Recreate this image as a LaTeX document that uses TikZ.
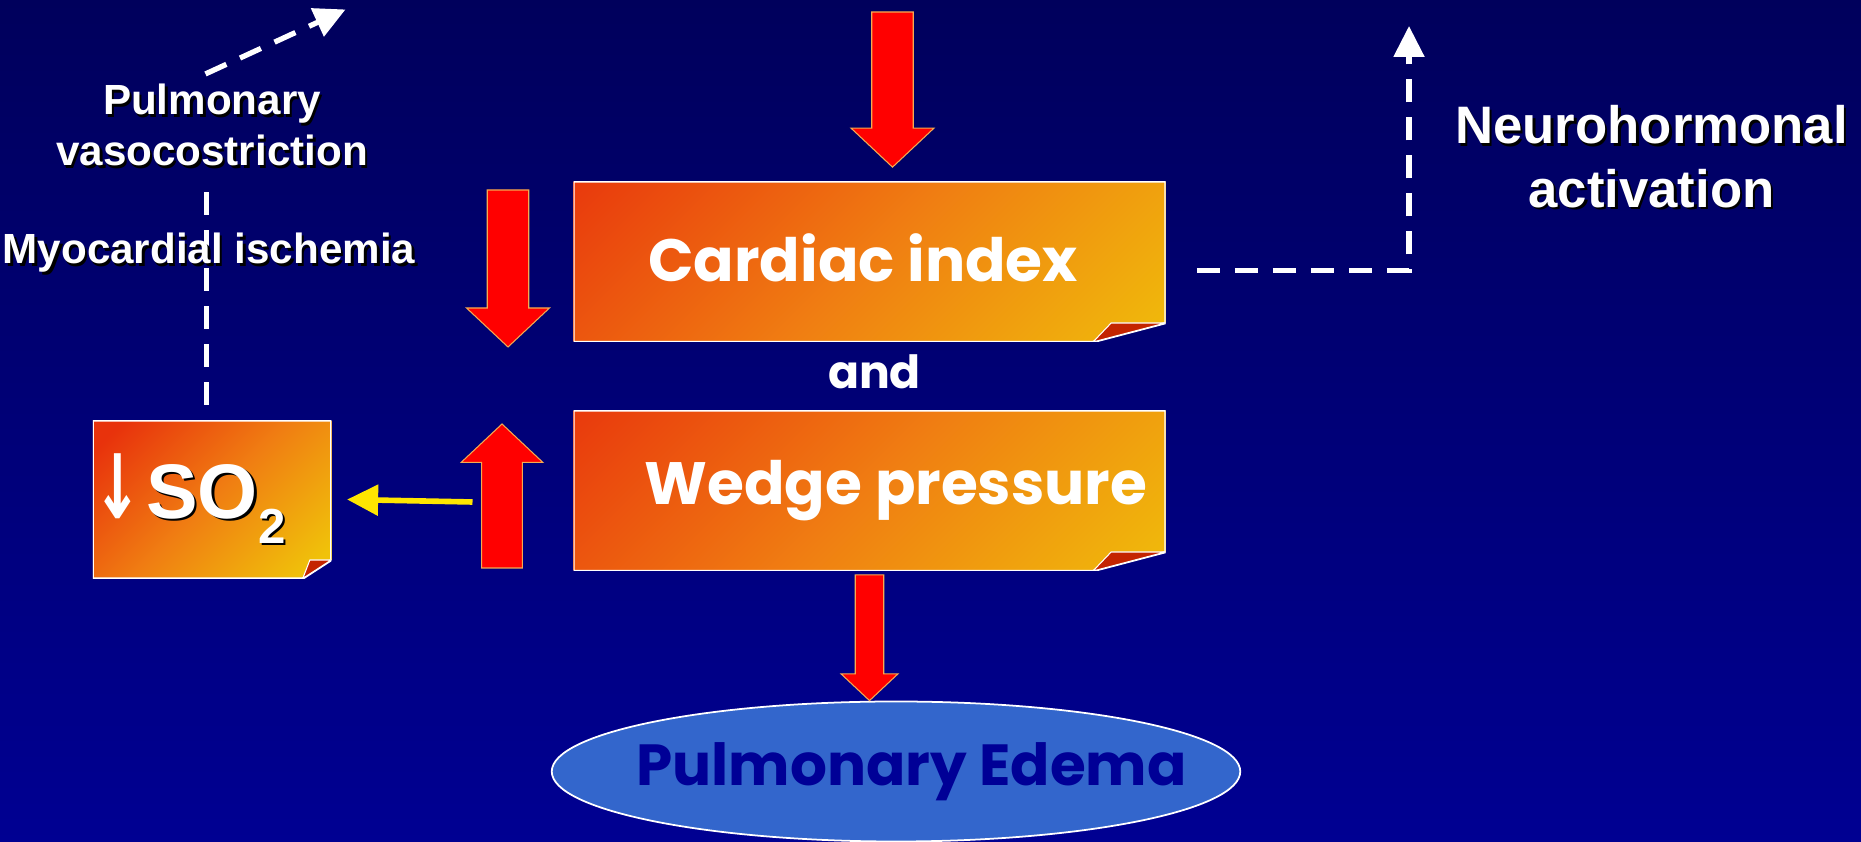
\documentclass[tikz,border=0pt]{standalone}
\usepackage{fontspec}
\usepackage{graphicx}
\setsansfont{Liberation Sans}
\newfontfamily\handfont{Poppins}
\newfontfamily\arrowfont{DejaVu Sans}
\usetikzlibrary{arrows.meta,calc,shapes.geometric}

\pgfdeclarelayer{back}
\pgfsetlayers{back,main}

\newcommand{\shadowed}[1]{\makebox[0pt][l]{\hspace{1.4pt}\raisebox{-1.4pt}{\color{black}#1}}#1}

\begin{document}
\begin{tikzpicture}[>={Triangle[width=0.6cm,length=0.62cm]},font=\sffamily\bfseries,
  fold x/.store in=\foldx,fold y/.store in=\foldy,fold x=1.45cm,fold y=0.38cm,
  paper/.style={minimum width=11.84cm,minimum height=3.21cm,inner sep=0pt,text=white,
    font=\handfont\bfseries\fontsize{34}{40}\selectfont,
    path picture={
      \coordinate (sw) at (path picture bounding box.south west);
      \coordinate (ne) at (path picture bounding box.north east);
      \coordinate (se) at (sw-|ne);
      \coordinate (mid) at ($(sw)!0.5!(ne)$);
      \begin{scope}
        \clip (sw) -- (sw|-ne) -- (ne) -- ($(se)+(0,\foldy)$) -- ($(se)+(-\foldx,0)$) -- cycle;
        \shade[top color=paperhot,bottom color=papergold,middle color=paperglow,shading angle=45]
          let \p1=($(ne)-(sw)$) in ($(mid)+(-0.5*\x1,-0.5*\x1)$) rectangle ($(mid)+(0.5*\x1,0.5*\x1)$);
      \end{scope}
      \draw[white,line width=1.4pt] (sw) -- (sw|-ne) -- (ne) -- ($(se)+(0,\foldy)$) -- ($(se)+(-\foldx,0)$) -- cycle;
      \filldraw[fill=foldred,draw=white,line width=0.6pt] ($(se)+(-\foldx,0)$) -- ($(se)+(-0.75*\foldx,\foldy)$) -- ($(se)+(0,\foldy)$) -- cycle;
    }},
  tag/.style={text=white,align=center,inner sep=0pt,font=\sffamily\bfseries\fontsize{24}{29}\selectfont},
  dashline/.style={white,line width=3pt,dash pattern=on 0.46cm off 0.3cm},
  pointerline/.style={draw=pointer,line width=3.2pt,->},
  blockarrow/.style={fill=arrowred,draw=arrowrim,line width=0.6pt,line join=miter,
    to path={
      -- ($(\tikztostart)!#1/4!90:(\tikztotarget)$)
      -- ($(\tikztotarget)!0.47*#1!(\tikztostart)!#1/4!90:(\tikztotarget)$)
      -- ($(\tikztotarget)!0.47*#1!(\tikztostart)!#1/2!90:(\tikztotarget)$)
      -- (\tikztotarget)
      -- ($(\tikztotarget)!0.47*#1!(\tikztostart)!#1/2!-90:(\tikztotarget)$)
      -- ($(\tikztotarget)!0.47*#1!(\tikztostart)!#1/4!-90:(\tikztotarget)$)
      -- ($(\tikztostart)!#1/4!-90:(\tikztotarget)$)
      -- cycle}}]
\definecolor{bgtop}{RGB}{0,0,92}
\definecolor{bgbottom}{RGB}{0,0,146}
\definecolor{paperhot}{RGB}{232,50,12}
\definecolor{paperglow}{RGB}{240,126,18}
\definecolor{papergold}{RGB}{240,194,10}
\definecolor{foldred}{RGB}{196,36,0}
\definecolor{arrowred}{RGB}{255,0,0}
\definecolor{arrowrim}{RGB}{245,170,80}
\definecolor{pointer}{RGB}{255,230,0}
\definecolor{edemafill}{RGB}{51,102,204}
\definecolor{edemaink}{RGB}{0,0,150}

\useasboundingbox (0,0) rectangle (37.22,16.84);
\begin{pgfonlayer}{back}
\shade[top color=bgtop,bottom color=bgbottom] (0,0) rectangle (37.22,16.84);
\end{pgfonlayer}

% The two haemodynamic notes and the oxygen note.
\node[paper] (ci) at (17.39,11.605) {\raisebox{0.17cm}{Cardiac index}\hspace*{0.26cm}};
\node[paper] (wp) at (17.39,7.025) {\hspace*{1.06cm}Wedge pressure};
\node[text=white,font=\handfont\bfseries\fontsize{26}{30}\selectfont] (and) at (17.49,9.41) {and};
\node[paper,minimum width=4.77cm,minimum height=3.16cm,text width=4.77cm,align=left,
  fold x=0.57cm,fold y=0.37cm,font=\sffamily\bfseries\fontsize{44}{44}\selectfont] (so) at (4.24,6.85)
  {\hspace*{0.02cm}{\arrowfont\bfseries\scalebox{0.75}[1.15]{↓}}\hspace{0.08cm}\shadowed{SO\raisebox{-0.32em}{\fontsize{28}{28}\selectfont 2}}};
\node[ellipse,fill=edemafill,draw=white,line width=1pt,minimum width=13.77cm,minimum height=2.8cm,
  inner xsep=-1cm,inner ysep=0pt,text=edemaink,font=\handfont\bfseries\fontsize{33}{38}\selectfont]
  (ed) at (17.92,1.41) {\hspace*{0.62cm}Pulmonary Edema};

% Side effects.
\node[tag] (pv) at (4.24,14.31) {\shadowed{Pulmonary}\\\shadowed{vasocostriction}};
\node[tag] (mi) at (4.18,11.76) {\shadowed{Myocardial ischemia}};
\node[tag,font=\sffamily\bfseries\fontsize{30}{36}\selectfont] (nh) at (33.03,13.68)
  {\shadowed{Neurohormonal}\\\shadowed{activation}};

\coordinate (citop) at (17.85,16.60);
\coordinate (citip) at ($(ci.north)+(0.46,0.28)$);
\coordinate (downtail) at (10.16,13.04);
\coordinate (downtip) at (10.16,9.90);
\coordinate (uptail) at (10.04,5.48);
\coordinate (uptip) at (10.04,8.36);
\coordinate (wpfoot) at ($(wp.south)+(0,-0.07)$);
\coordinate (edtop) at (wp.south |- ed.north);
\coordinate (hypox) at (9.45,6.80);
\coordinate (pvtip) at (6.91,16.65);
\coordinate (nhtip) at (28.18,16.32);
\coordinate (pvfoot) at (so.north |- pv.south);

% Red block arrows.
\path[blockarrow=1.66cm] (citop) to (citip);
\path[blockarrow=1.66cm] (downtail) to (downtip);
\path[blockarrow=1.63cm] (uptail) to (uptip);
\path[blockarrow=1.14cm] (wpfoot) to (edtop);

\draw[pointerline] (hypox) -- ([xshift=0.31cm]so.east);

% Dashed feedback lines run under the labels.
\begin{pgfonlayer}{back}
\draw[dashline] ([xshift=-0.11cm,yshift=0.31cm]so.north) -- ([xshift=-0.11cm,yshift=-0.3cm]pvfoot);
\draw[dashline,->] ([xshift=-0.13cm,yshift=0.2cm]pv.north) -- (pvtip);
\draw[dashline,->] ([xshift=0.62cm,yshift=-0.17cm]ci.east) -| (nhtip);
\end{pgfonlayer}
\end{tikzpicture}
\end{document}
